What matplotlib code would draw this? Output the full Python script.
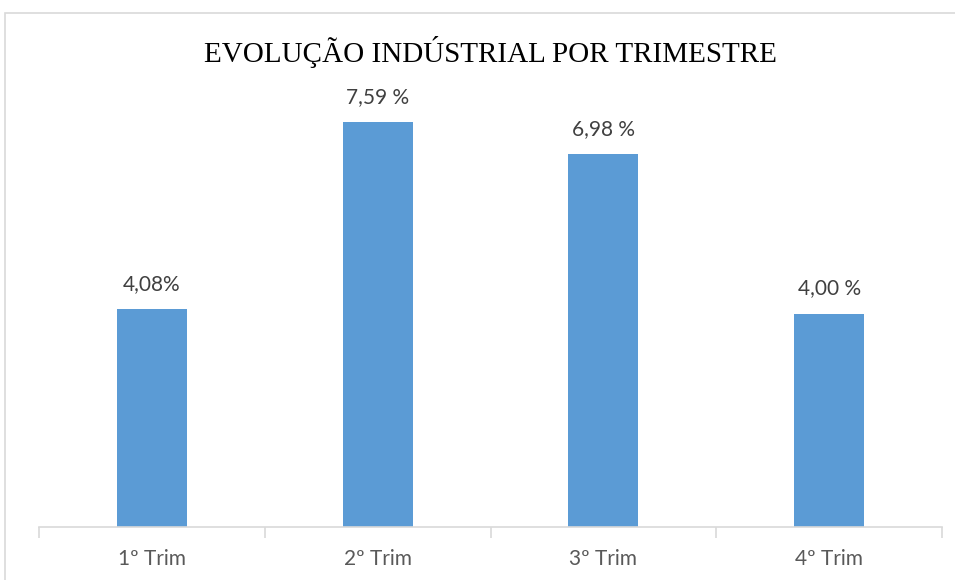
import matplotlib
matplotlib.use("Agg")
import matplotlib.pyplot as plt
from matplotlib.patches import Rectangle

categories = ["1º Trim", "2º Trim", "3º Trim", "4º Trim"]
values = [4.08, 7.59, 6.98, 4.00]
value_labels = ["4,08%", "7,59 %", "6,98 %", "4,00 %"]
title = "EVOLUÇÃO INDÚSTRIAL POR TRIMESTRE"

W, H = 955, 580
fig = plt.figure(figsize=(W / 100, H / 100), dpi=100)
fig.patch.set_facecolor("white")

# outer chart border
fig.patches.append(Rectangle((5 / W, -0.05), 1.2, 1 - 13 / H + 0.05,
                             transform=fig.transFigure, fill=False,
                             edgecolor="#D9D9D9", linewidth=1.2))

left, right = 39 / W, 942 / W
bottom = 1 - 527 / H
top = 1 - 100 / H
ax = fig.add_axes([left, bottom, right - left, top - bottom])

x = list(range(len(categories)))
ax.bar(x, values, width=0.31, color="#5B9BD5", zorder=2)
ax.set_xlim(-0.5, len(categories) - 0.5)
ax.set_ylim(0, 8)

for s in ["top", "right", "left"]:
    ax.spines[s].set_visible(False)
ax.spines["bottom"].set_color("#D9D9D9")
ax.spines["bottom"].set_linewidth(1.2)
ax.set_yticks([])

ax.set_xticks([i - 0.5 for i in range(len(categories) + 1)], minor=False)
ax.set_xticklabels([])
ax.tick_params(axis="x", which="major", length=8, color="#D9D9D9", width=1.2)
ax.set_xticks(x, minor=True)
ax.set_xticklabels(categories, minor=True, fontsize=15, color="#595959",
                   family="Lato")
ax.tick_params(axis="x", which="minor", length=0, pad=16)

for xi, v, lab in zip(x, values, value_labels):
    ax.annotate(lab, (xi, v), xytext=(0, 11), textcoords="offset points",
                ha="center", va="bottom", fontsize=15, color="#404040",
                family="Lato")

fig.text(490 / W, 1 - 52 / H, title, ha="center", va="center",
         fontsize=21, family="Liberation Serif", color="black")

fig.savefig("out.png", dpi=100)
